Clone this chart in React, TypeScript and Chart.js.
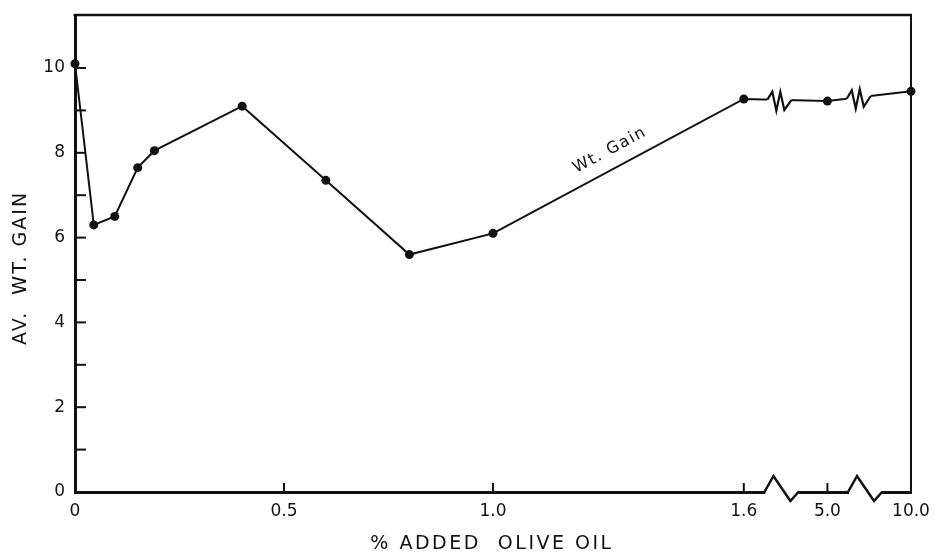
import { useEffect, useRef } from "react";
import { Chart, registerables } from "chart.js";

Chart.register(...registerables);

// Average weight gain against % added olive oil
const oilPercent = [0, 0.045, 0.095, 0.15, 0.19, 0.4, 0.6, 0.8, 1.0, 1.6, 5.0, 10.0];
const avWtGain = [10.1, 6.3, 6.5, 7.65, 8.05, 9.1, 7.35, 5.6, 6.1, 9.27, 9.22, 9.45];

const xTickValues = [0, 0.5, 1.0, 1.6, 5.0, 10.0];
const xTickLabels = ["0", "0.5", "1.0", "1.6", "5.0", "10.0"];
const yTickValues = [0, 1, 2, 3, 4, 5, 6, 7, 8, 9, 10];
const yLabelStep = 2;

// The x axis is linear up to 1.6, then broken: 5.0 and 10.0 sit at fixed stations.
const brokenValues = [5.0, 10.0];
const brokenStations = [1.8, 2.0];
const axisBreaks = [1.69, 1.89];
const lineBreaks = [1.685, 1.875];

const seriesLabel = "Wt. Gain";
const xTitle = "% ADDED  OLIVE OIL";
const yTitle = "AV.  WT. GAIN";

const INK = "#111";
const FONT = "'DejaVu Sans', sans-serif";

const toStation = (v: number) => {
  const i = brokenValues.indexOf(v);
  return i >= 0 ? brokenStations[i] : v;
};

const decorations = {
  id: "decorations",
  afterDraw(chart: any) {
    const { ctx, chartArea: a, scales } = chart;
    const xs = scales.x;
    const ys = scales.y;
    const seg = (x1: number, y1: number, x2: number, y2: number) => {
      ctx.beginPath();
      ctx.moveTo(x1, y1);
      ctx.lineTo(x2, y2);
      ctx.stroke();
    };
    ctx.save();
    ctx.strokeStyle = INK;
    ctx.fillStyle = INK;
    ctx.lineCap = "butt";

    // top and right sides of the frame
    ctx.lineWidth = 2.5;
    seg(a.left - 1.5, a.top, a.right + 1, a.top);
    ctx.lineWidth = 2;
    seg(a.right, a.top, a.right, a.bottom + 1.5);

    // tick marks point into the plot
    ctx.lineWidth = 2;
    yTickValues.forEach((v) => {
      if (v === 0) return;
      const py = ys.getPixelForValue(v);
      seg(a.left, py, a.left + 11, py);
    });
    xTickValues.forEach((v) => {
      if (v === 0 || v === 10) return;
      const px = xs.getPixelForValue(toStation(v));
      seg(px, a.bottom, px, a.bottom - 9);
    });

    // break marks on the x axis
    axisBreaks.forEach((b) => {
      const c = xs.getPixelForValue(b);
      const by = a.bottom;
      ctx.fillStyle = "#fff";
      ctx.fillRect(c - 16, by - 3, 32, 6);
      ctx.lineWidth = 2.5;
      ctx.lineJoin = "miter";
      ctx.beginPath();
      ctx.moveTo(c - 17, by);
      ctx.lineTo(c - 8, by - 16);
      ctx.lineTo(c + 9, by + 9);
      ctx.lineTo(c + 17, by);
      ctx.stroke();
    });

    // break marks on the data line
    const pts = chart.getDatasetMeta(0).data;
    const stations = oilPercent.map(toStation);
    lineBreaks.forEach((b) => {
      let i = 0;
      while (i < stations.length - 2 && stations[i + 1] < b) i++;
      const p0 = pts[i];
      const p1 = pts[i + 1];
      const c = xs.getPixelForValue(b);
      const slope = (p1.y - p0.y) / (p1.x - p0.x);
      const py = p0.y + (c - p0.x) * slope;
      ctx.fillStyle = "#fff";
      ctx.fillRect(c - 12, py - 3, 24, 6);
      ctx.lineWidth = 2.2;
      ctx.lineJoin = "miter";
      const zig = [[-12, 0], [-7, -8], [-3, 11], [1, -8], [5, 10], [12, 0]];
      ctx.beginPath();
      zig.forEach(([dx, dy], k) => {
        const yy = py + dy + dx * slope;
        if (k === 0) ctx.moveTo(c + dx, yy);
        else ctx.lineTo(c + dx, yy);
      });
      ctx.stroke();
    });

    // series label along the rising segment after 1.0
    const q0 = pts[8];
    const q1 = pts[9];
    const ang = Math.atan2(q1.y - q0.y, q1.x - q0.x);
    const tt = 0.5;
    const ax = q0.x + tt * (q1.x - q0.x) + Math.sin(ang) * 18;
    const ay = q0.y + tt * (q1.y - q0.y) - Math.cos(ang) * 18;
    ctx.fillStyle = INK;
    ctx.save();
    ctx.translate(ax, ay);
    ctx.rotate(ang);
    ctx.font = `16px ${FONT}`;
    (ctx as any).letterSpacing = "1.5px";
    ctx.textAlign = "center";
    ctx.textBaseline = "middle";
    ctx.fillText(seriesLabel, 0, 0);
    ctx.restore();

    // axis titles
    ctx.save();
    ctx.textAlign = "center";
    ctx.textBaseline = "middle";
    ctx.font = `19px ${FONT}`;
    (ctx as any).letterSpacing = "2.5px";
    ctx.fillText(xTitle, (a.left + a.right) / 2 - 1, 544);
    (ctx as any).letterSpacing = "2px";
    ctx.translate(21, 268);
    ctx.rotate(-Math.PI / 2);
    ctx.fillText(yTitle, 0, 0);
    ctx.restore();

    ctx.restore();
  },
};

export default function App() {
  const ref = useRef<HTMLCanvasElement>(null);

  useEffect(() => {
    document.body.style.margin = "0";
    const chart = new Chart(ref.current!, {
      type: "line",
      data: {
        datasets: [
          {
            data: oilPercent.map((v, i) => ({ x: toStation(v), y: avWtGain[i] })),
            borderColor: INK,
            borderWidth: 2,
            pointRadius: 4.5,
            pointBackgroundColor: INK,
            pointBorderWidth: 0,
            tension: 0,
            clip: false as any,
          },
        ],
      },
      options: {
        responsive: false,
        animation: false,
        layout: { padding: { top: 15, right: 23, left: 0, bottom: 0 } },
        plugins: { legend: { display: false }, tooltip: { enabled: false } },
        scales: {
          x: {
            type: "linear",
            min: 0,
            max: 2.0,
            afterBuildTicks: (s: any) => {
              s.ticks = xTickValues.map((v) => ({ value: toStation(v) }));
            },
            afterFit: (s: any) => {
              s.height = 60;
              s.paddingLeft = 0;
              s.paddingRight = 0;
            },
            grid: { display: false, drawTicks: false },
            border: { display: true, width: 3, color: INK },
            ticks: {
              padding: 9,
              autoSkip: false,
              maxRotation: 0,
              color: INK,
              font: { family: FONT, size: 17 },
              callback: (val: any) => {
                const i = xTickValues.findIndex((v) => Math.abs(toStation(v) - Number(val)) < 1e-6);
                return i >= 0 ? xTickLabels[i] : "";
              },
            },
          },
          y: {
            type: "linear",
            min: 0,
            max: 11.25,
            afterBuildTicks: (s: any) => {
              s.ticks = yTickValues.map((v) => ({ value: v }));
            },
            afterFit: (s: any) => {
              s.width = 75;
              s.paddingTop = 0;
              s.paddingBottom = 0;
            },
            grid: { display: false, drawTicks: false },
            border: { display: true, width: 3, color: INK },
            ticks: {
              padding: 10,
              autoSkip: false,
              color: INK,
              font: { family: FONT, size: 17 },
              callback: (val: any) => (Number(val) % yLabelStep === 0 ? String(val) : ""),
            },
          },
        },
      },
      plugins: [decorations],
    });
    return () => chart.destroy();
  }, []);

  return (
    <div style={{ width: 934, height: 552, background: "#fff" }}>
      <canvas ref={ref} width={934} height={552} style={{ display: "block" }} />
    </div>
  );
}
